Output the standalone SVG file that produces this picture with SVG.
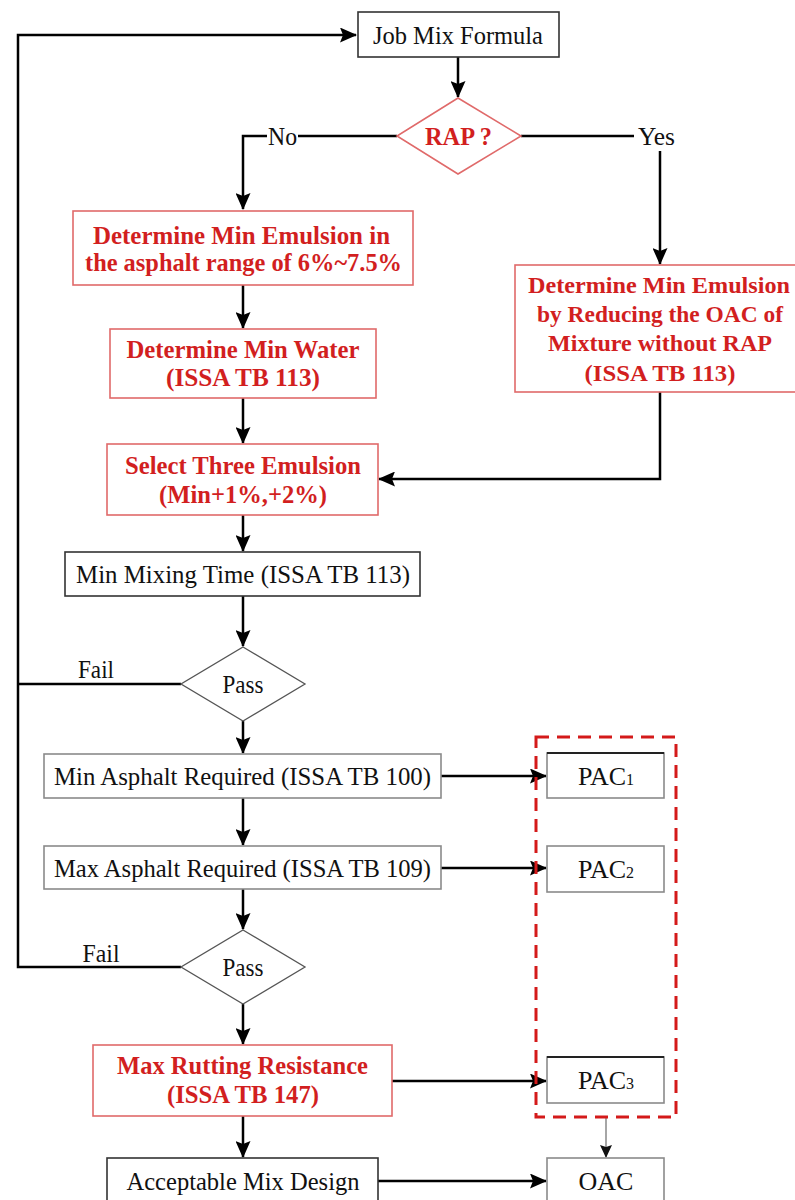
<svg xmlns="http://www.w3.org/2000/svg" width="795" height="1200" viewBox="0 0 795 1200">
<style>
.box{fill:#fff;stroke:#333;stroke-width:1.6}
.gbox{fill:#fff;stroke:#8a8a8a;stroke-width:1.6}
.rbox{fill:#fff;stroke:#e06a6a;stroke-width:1.6}
.dia{fill:#fff;stroke:#555;stroke-width:1.3}
.rdia{fill:#fff;stroke:#e06a6a;stroke-width:1.6}
.top{stroke:#222;stroke-width:2.2}
.t{font-family:"Liberation Serif","Times New Roman",serif;font-size:26px;fill:#111;text-anchor:middle}
.rt{font-family:"Liberation Serif","Times New Roman",serif;font-size:26px;font-weight:bold;fill:#d21f1f;text-anchor:middle}
.rs{font-size:24px}
.lbl{font-family:"Liberation Serif","Times New Roman",serif;font-size:25px;fill:#111;text-anchor:middle}
.sub{font-size:16px}
.conn{stroke:#000;stroke-width:2.5;fill:none}
.thin{stroke:#888;stroke-width:1.5;fill:none}
.dash{fill:none;stroke:#d41a1a;stroke-width:3;stroke-dasharray:13 8}
</style>
<defs>
<marker id="ah" markerUnits="userSpaceOnUse" markerWidth="17" markerHeight="15" refX="16" refY="7.5" orient="auto">
<path d="M0,0 L17,7.5 L0,15 L3,7.5 z" fill="#000"/>
</marker>
<marker id="ahs" markerUnits="userSpaceOnUse" markerWidth="13" markerHeight="12" refX="12" refY="6" orient="auto">
<path d="M0,0 L13,6 L0,12 L2,6 z" fill="#111"/>
</marker>
</defs>

<g id="connectors">
<path class="conn" d="M181,967 H18 V35 H356" marker-end="url(#ah)"/>
<path class="conn" d="M181,684 H18"/>
<path class="conn" d="M458,57 V97" marker-end="url(#ah)"/>
<path class="conn" d="M397,136 H298"/>
<path class="conn" d="M267,136 H243 V209" marker-end="url(#ah)"/>
<path class="conn" d="M521,136 H634"/>
<path class="conn" d="M660,151 V264" marker-end="url(#ah)"/>
<path class="conn" d="M243,285 V328" marker-end="url(#ah)"/>
<path class="conn" d="M243,398 V443" marker-end="url(#ah)"/>
<path class="conn" d="M660,392 V479 H379" marker-end="url(#ah)"/>
<path class="conn" d="M243,515 V551" marker-end="url(#ah)"/>
<path class="conn" d="M243,596 V646" marker-end="url(#ah)"/>
<path class="conn" d="M243,721 V753" marker-end="url(#ah)"/>
<path class="conn" d="M441,776 H546" marker-end="url(#ah)"/>
<path class="conn" d="M243,798 V845" marker-end="url(#ah)"/>
<path class="conn" d="M441,868 H546" marker-end="url(#ah)"/>
<path class="conn" d="M243,889 V929" marker-end="url(#ah)"/>
<path class="conn" d="M243,1004 V1044" marker-end="url(#ah)"/>
<path class="conn" d="M392,1081 H546" marker-end="url(#ah)"/>
<path class="conn" d="M243,1116 V1157" marker-end="url(#ah)"/>
<path class="conn" d="M378,1181 H546" marker-end="url(#ah)"/>
<path class="thin" d="M606,1117 V1157" marker-end="url(#ahs)"/>
</g>

<g id="labels">
<text class="lbl" x="282.5" y="145" textLength="29" lengthAdjust="spacingAndGlyphs">No</text>
<text class="lbl" x="656.5" y="145" textLength="37" lengthAdjust="spacingAndGlyphs">Yes</text>
<text class="lbl" x="96" y="678" textLength="36" lengthAdjust="spacingAndGlyphs">Fail</text>
<text class="lbl" x="101" y="962" textLength="37" lengthAdjust="spacingAndGlyphs">Fail</text>
</g>

<g id="job-mix-formula">
<rect class="box" x="358" y="12" width="201" height="45"/>
<text class="t" x="458" y="44" textLength="170" lengthAdjust="spacingAndGlyphs">Job Mix Formula</text>
</g>

<g id="rap">
<polygon class="rdia" points="458,98 521,136 458,174 397,136"/>
<text class="rt" x="458.5" y="145" textLength="67" lengthAdjust="spacingAndGlyphs">RAP ?</text>
</g>

<g id="min-emulsion-range">
<rect class="rbox" x="73" y="211" width="340" height="74"/>
<text class="rt" x="241.5" y="244" textLength="297" lengthAdjust="spacingAndGlyphs">Determine Min Emulsion in</text>
<text class="rt" x="243.5" y="271" textLength="317" lengthAdjust="spacingAndGlyphs">the asphalt range of 6%~7.5%</text>
</g>

<g id="min-emulsion-rap">
<rect class="rbox" x="515" y="265" width="300" height="127"/>
<text class="rt rs" x="659" y="293" textLength="262" lengthAdjust="spacingAndGlyphs">Determine Min Emulsion</text>
<text class="rt rs" x="660" y="322" textLength="246" lengthAdjust="spacingAndGlyphs">by Reducing the OAC of</text>
<text class="rt rs" x="660" y="351" textLength="224" lengthAdjust="spacingAndGlyphs">Mixture without RAP</text>
<text class="rt rs" x="660" y="381" textLength="151" lengthAdjust="spacingAndGlyphs">(ISSA TB 113)</text>
</g>

<g id="min-water">
<rect class="rbox" x="110" y="329" width="266" height="69"/>
<text class="rt" x="243" y="358" textLength="233" lengthAdjust="spacingAndGlyphs">Determine Min Water</text>
<text class="rt" x="243" y="386" textLength="154" lengthAdjust="spacingAndGlyphs">(ISSA TB 113)</text>
</g>

<g id="select-three">
<rect class="rbox" x="107" y="444" width="271" height="71"/>
<text class="rt" x="243" y="474" textLength="236" lengthAdjust="spacingAndGlyphs">Select Three Emulsion</text>
<text class="rt" x="243" y="503" textLength="168" lengthAdjust="spacingAndGlyphs">(Min+1%,+2%)</text>
</g>

<g id="min-mixing-time">
<rect class="box" x="65" y="552" width="355" height="44"/>
<text class="t" x="243" y="583" textLength="334" lengthAdjust="spacingAndGlyphs">Min Mixing Time (ISSA TB 113)</text>
</g>

<g id="pass-1">
<polygon class="dia" points="243,647 305,684 243,721 181,684"/>
<text class="lbl" x="243" y="693" textLength="41" lengthAdjust="spacingAndGlyphs">Pass</text>
</g>

<g id="min-asphalt">
<rect class="gbox" x="44" y="754" width="397" height="44"/>
<text class="t" x="242.5" y="785" textLength="377" lengthAdjust="spacingAndGlyphs">Min Asphalt Required (ISSA TB 100)</text>
</g>

<g id="max-asphalt">
<rect class="gbox" x="44" y="846" width="397" height="43"/>
<text class="t" x="242.5" y="877" textLength="377" lengthAdjust="spacingAndGlyphs">Max Asphalt Required (ISSA TB 109)</text>
</g>

<g id="pass-2">
<polygon class="dia" points="243,930 305,967 243,1004 181,967"/>
<text class="lbl" x="243" y="976" textLength="41" lengthAdjust="spacingAndGlyphs">Pass</text>
</g>

<g id="max-rutting">
<rect class="rbox" x="93" y="1045" width="299" height="71"/>
<text class="rt" x="242.5" y="1074" textLength="251" lengthAdjust="spacingAndGlyphs">Max Rutting Resistance</text>
<text class="rt" x="243" y="1103" textLength="152" lengthAdjust="spacingAndGlyphs">(ISSA TB 147)</text>
</g>

<g id="acceptable-mix">
<rect class="box" x="107" y="1158" width="271" height="60"/>
<text class="t" x="243" y="1190" textLength="233" lengthAdjust="spacingAndGlyphs">Acceptable Mix Design</text>
</g>

<g id="pac-group">
<rect class="dash" x="536" y="737" width="140" height="380"/>
</g>

<g id="pac1">
<rect class="gbox" x="547" y="753" width="117" height="45"/>
<line class="top" x1="547" y1="753" x2="664" y2="753"/>
<text class="t" x="606" y="785">PAC<tspan class="sub">1</tspan></text>
</g>

<g id="pac2">
<rect class="gbox" x="547" y="846" width="117" height="46"/>
<text class="t" x="606" y="878">PAC<tspan class="sub">2</tspan></text>
</g>

<g id="pac3">
<rect class="gbox" x="547" y="1057" width="117" height="46"/>
<line class="top" x1="547" y1="1057" x2="664" y2="1057"/>
<text class="t" x="606" y="1089">PAC<tspan class="sub">3</tspan></text>
</g>

<g id="oac">
<rect class="gbox" x="547" y="1158" width="117" height="60"/>
<text class="t" x="606" y="1190">OAC</text>
</g>
</svg>
